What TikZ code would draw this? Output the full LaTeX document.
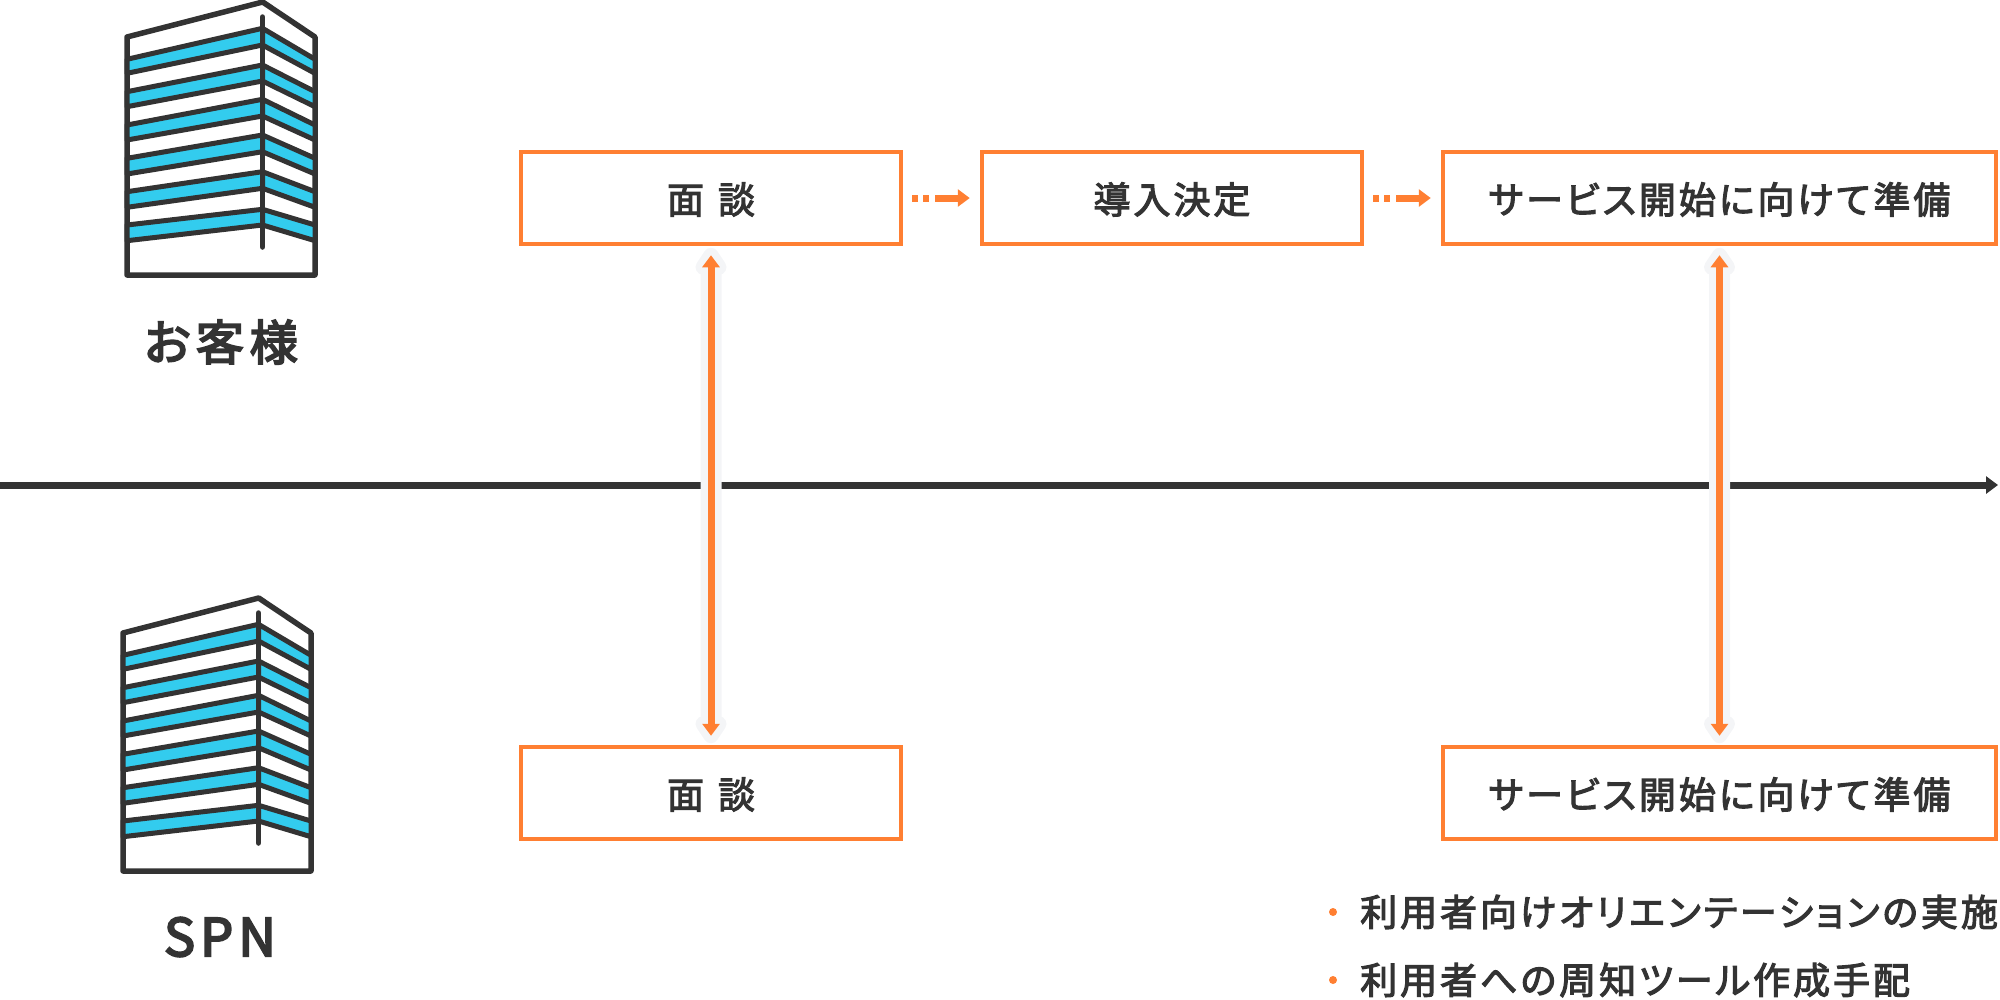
\documentclass[tikz,border=0pt]{standalone}
\usepackage{fontspec}
\usepackage{xcolor}
\usepackage{tikz}
\usetikzlibrary{
    arrows.meta,
    calc
}
\newfontfamily\jpfont[RawFeature={+palt},LetterSpace=8,FakeBold=3]{Noto Sans CJK JP}
\newfontfamily\jpheadfont[RawFeature={+palt},LetterSpace=12,FakeBold=4]{Noto Sans CJK JP}
\newfontfamily\spnfont[LetterSpace=10,FakeBold=4]{Noto Sans CJK JP}
\definecolor{tlorange}{HTML}{FF7F32}
\definecolor{tldark}{HTML}{333333}
\definecolor{tlblue}{HTML}{33CCEE}
\definecolor{tlhalo}{HTML}{F4F5F7}
\tikzset{
    talkbox/.style={draw=tlorange,line width=4.5pt,fill=white,minimum height=92pt,inner sep=0pt,text=tldark,text height=31pt,text depth=0pt,font=\jpfont\fontsize{37}{37}\selectfont},
    headlabel/.style={inner sep=0pt,text=tldark,font=\jpheadfont\fontsize{48}{48}\selectfont},
    spnlabel/.style={inner sep=0pt,text=tldark,font=\spnfont\fontsize{52}{52}\selectfont},
    notelabel/.style={anchor=west,inner sep=0pt,text=tldark,font=\jpfont\fontsize{37}{37}\selectfont},
    notedot/.style={circle,fill=tlorange,inner sep=0pt,minimum size=8pt},
    nextarrow/.style={draw=tlorange,line width=7pt,dash pattern=on 6pt off 5pt on 6pt off 6pt on 200pt,shorten <=9pt,shorten >=10pt,-{Triangle[length=12pt,width=17pt,fill=tlorange]}},
    linkhalo/.style={draw=tlhalo,fill=tlhalo,line width=15pt,line join=round},
    linkarrow/.style={draw=tlorange,line width=7pt,shorten <=9pt,shorten >=9pt,{Triangle[length=12pt,width=17pt,fill=tlorange]}-{Triangle[length=12pt,width=17pt,fill=tlorange]}},
    building/.pic={
        \draw[tldark,line width=5.5pt,line join=round,fill=white] (27,275) -- (27,37) -- (162.7,2) -- (215,37) -- (215,275) -- cycle;
        \foreach \lt/\lb/\ct/\cb in {59.3/73.3/28.3/45,91.7/106.7/65/81,125/140/99.3/116,158.3/174/135/151.7,191.7/207.3/171.7/188.3,225/240.7/209.3/225}{
            \filldraw[draw=tldark,fill=tlblue,line width=5pt,line join=round] (27,\lt) -- (162.5,\ct) -- (162.5,\cb) -- (27,\lb) -- cycle;
            \filldraw[draw=tldark,fill=tlblue,line width=5pt,line join=round] (215,\lt) -- (162.5,\ct) -- (162.5,\cb) -- (215,\lb) -- cycle;
        }
        \draw[tldark,line width=5.5pt,line cap=round] (162.5,17) -- (162.5,247);
    }
}

\begin{document}
\begin{tikzpicture}[x=1pt,y=-1pt]
        \useasboundingbox (0,0) rectangle (2000,999);

        \pic at (100,0) {building};
        \pic at (96,596) {building};
        \draw (221,342) node[headlabel](client){お客様};
        \draw (220,937) node[spnlabel](spn){SPN};

        % time line
        \coordinate (tlstart) at (0,485);
        \coordinate (tlend) at (1998,485);
        \draw[tldark,line width=7pt,-{Triangle[length=12pt,width=17pt,fill=tldark]}] (tlstart) -- (tlend);

        \draw (711,198) node[talkbox,minimum width=380pt](talka){面\hspace{14pt}談};
        \draw (1172,198) node[talkbox,minimum width=380pt](decide){導入決定};
        \draw (1719.5,198) node[talkbox,minimum width=553pt](prepa){サービス開始に向けて準備};
        \draw (711,793) node[talkbox,minimum width=380pt](talkb){面\hspace{14pt}談};
        \draw (1719.5,793) node[talkbox,minimum width=553pt](prepb){サービス開始に向けて準備};

        \draw[nextarrow] (talka) -- (decide);
        \draw[nextarrow] (decide) -- (prepa);

        % pale band under the two way arrows
        \foreach \upper/\lower in {talka/talkb,prepa/prepb}{
            \draw[linkhalo] ($(\upper.south)+(-3,21)$) -- ($(\upper.south)+(-8,21)$) -- ($(\upper.south)+(0,9)$) -- ($(\upper.south)+(8,21)$) -- ($(\upper.south)+(3,21)$)
                -- ($(\lower.north)+(3,-21)$) -- ($(\lower.north)+(8,-21)$) -- ($(\lower.north)+(0,-9)$) -- ($(\lower.north)+(-8,-21)$) -- ($(\lower.north)+(-3,-21)$) -- cycle;
            \draw[linkarrow] (\upper) -- (\lower);
        }

        \draw (1333,912) node[notedot](dota){};
        \draw (1360,912) node[notelabel](notea){利用者向けオリエンテーションの実施};
        \draw (1333,980) node[notedot](dotb){};
        \draw (1360,980) node[notelabel](noteb){利用者への周知ツール作成手配};
\end{tikzpicture}
\end{document}
